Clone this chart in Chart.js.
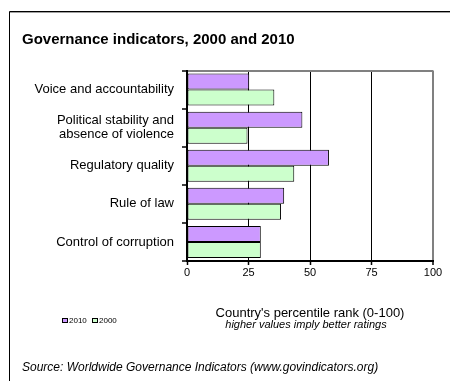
<!DOCTYPE html>
<html>
<head>
<meta charset="utf-8">
<script src="https://cdn.jsdelivr.net/npm/chart.js@4"></script>
<style>
  html, body { margin: 0; padding: 0; background: #fff; }
</style>
</head>
<body>
<canvas id="govChart" width="450" height="381"></canvas>
<script>
// Données (rang percentile, 0-100)
const categories = [
    "Voice and accountability",
    ["Political stability and", "absence of violence"],
    "Regulatory quality",
    "Rule of law",
    "Control of corruption"
];
const values2010 = [25.3, 46.9, 57.7, 39.5, 30.0];
const values2000 = [35.5, 24.6, 43.6, 38.2, 30.0];
const xTicks = [0, 25, 50, 75, 100];

const FONT = '"Liberation Sans", Arial, sans-serif';
const titleText = "Governance indicators, 2000 and 2010";
const axisTitle = "Country's percentile rank (0-100)";
const axisNote = "higher values imply better ratings";
const sourceText = "Source: Worldwide Governance Indicators (www.govindicators.org)";

/**
 * Cadre extérieur, note en italique sous l'axe et petite légende
 */
const framePlugin = {
    id: 'frame',
    beforeDraw(chart) {
        const ctx = chart.ctx;
        ctx.save();
        ctx.fillStyle = '#fff';
        ctx.fillRect(0, 0, chart.width, chart.height);
        ctx.lineWidth = 1;
        ctx.strokeStyle = '#000';
        ctx.beginPath();
        ctx.moveTo(9.5, chart.height);
        ctx.lineTo(9.5, 11.5);
        ctx.lineTo(chart.width, 11.5);
        ctx.stroke();
        ctx.strokeStyle = '#a0a0a0';
        ctx.beginPath();
        ctx.moveTo(10, 12.5);
        ctx.lineTo(chart.width, 12.5);
        ctx.stroke();
        ctx.restore();
    },
    afterDraw(chart) {
        const ctx = chart.ctx;
        ctx.save();
        ctx.fillStyle = '#000';
        ctx.font = 'italic 11px ' + FONT;
        ctx.textAlign = 'center';
        ctx.textBaseline = 'middle';
        ctx.fillText(axisNote, 306, 325);

        // légende
        ctx.font = '8px ' + FONT;
        ctx.textAlign = 'left';
        let x = 62;
        chart.data.datasets.forEach(ds => {
            ctx.fillStyle = ds.backgroundColor;
            ctx.fillRect(x, 318, 5, 4);
            ctx.strokeStyle = '#000';
            ctx.lineWidth = 1;
            ctx.strokeRect(x + 0.5, 318.5, 5, 4);
            ctx.fillStyle = '#000';
            ctx.fillText(ds.label, x + 7, 320.5);
            x += 30;
        });
        ctx.restore();
    }
};

new Chart(document.getElementById('govChart'), {
    type: 'bar',
    data: {
        labels: categories,
        datasets: [
            { label: '2010', data: values2010, backgroundColor: '#CC99FF', borderColor: '#000', borderWidth: 1, borderSkipped: false },
            { label: '2000', data: values2000, backgroundColor: '#CCFFCC', borderColor: '#000', borderWidth: 1, borderSkipped: false }
        ]
    },
    options: {
        indexAxis: 'y',
        responsive: false,
        animation: false,
        layout: { padding: { left: 22, right: 17, top: 0, bottom: 0 } },
        datasets: { bar: { categoryPercentage: 0.84, barPercentage: 1 } },
        plugins: {
            legend: { display: false },
            tooltip: { enabled: false },
            title: {
                display: true,
                text: titleText,
                align: 'start',
                color: '#000',
                font: { family: FONT, size: 15, weight: 'bold' },
                padding: { top: 30.5, bottom: 22 }
            },
            subtitle: {
                display: true,
                position: 'bottom',
                align: 'start',
                text: sourceText,
                color: '#000',
                font: { family: FONT, size: 12, style: 'italic' },
                padding: { top: 0, bottom: 6.3 }
            }
        },
        scales: {
            x: {
                min: xTicks[0],
                max: xTicks[xTicks.length - 1],
                afterBuildTicks: scale => { scale.ticks = xTicks.map(v => ({ value: v })); },
                ticks: { color: '#000', font: { family: FONT, size: 11 }, padding: 1 },
                grid: {
                    color: c => (c.tick && c.tick.value === 100) ? '#808080' : '#000',
                    lineWidth: c => (c.tick && c.tick.value === 100) ? 2 : 1,
                    tickColor: '#000',
                    tickLength: 4,
                    tickWidth: 1.5
                },
                border: { color: '#000', width: 2 },
                title: {
                    display: true,
                    text: axisTitle,
                    color: '#000',
                    font: { family: FONT, size: 13 },
                    padding: { top: 0, bottom: 39.5 }
                },
                afterFit: scale => { scale.height = 99.3; }
            },
            y: {
                ticks: { color: '#000', font: { family: FONT, size: 13, lineHeight: 1.1 }, padding: 8 },
                grid: {
                    offset: true,
                    color: c => (c.type === 'tick' && c.index === 0) ? '#808080' : 'rgba(0,0,0,0)',
                    lineWidth: 2,
                    tickColor: '#000',
                    tickLength: 5,
                    tickWidth: 1.5
                },
                border: { color: '#000', width: 2 },
                afterFit: scale => { scale.width = 165; }
            }
        }
    },
    plugins: [framePlugin]
});
</script>
</body>
</html>
